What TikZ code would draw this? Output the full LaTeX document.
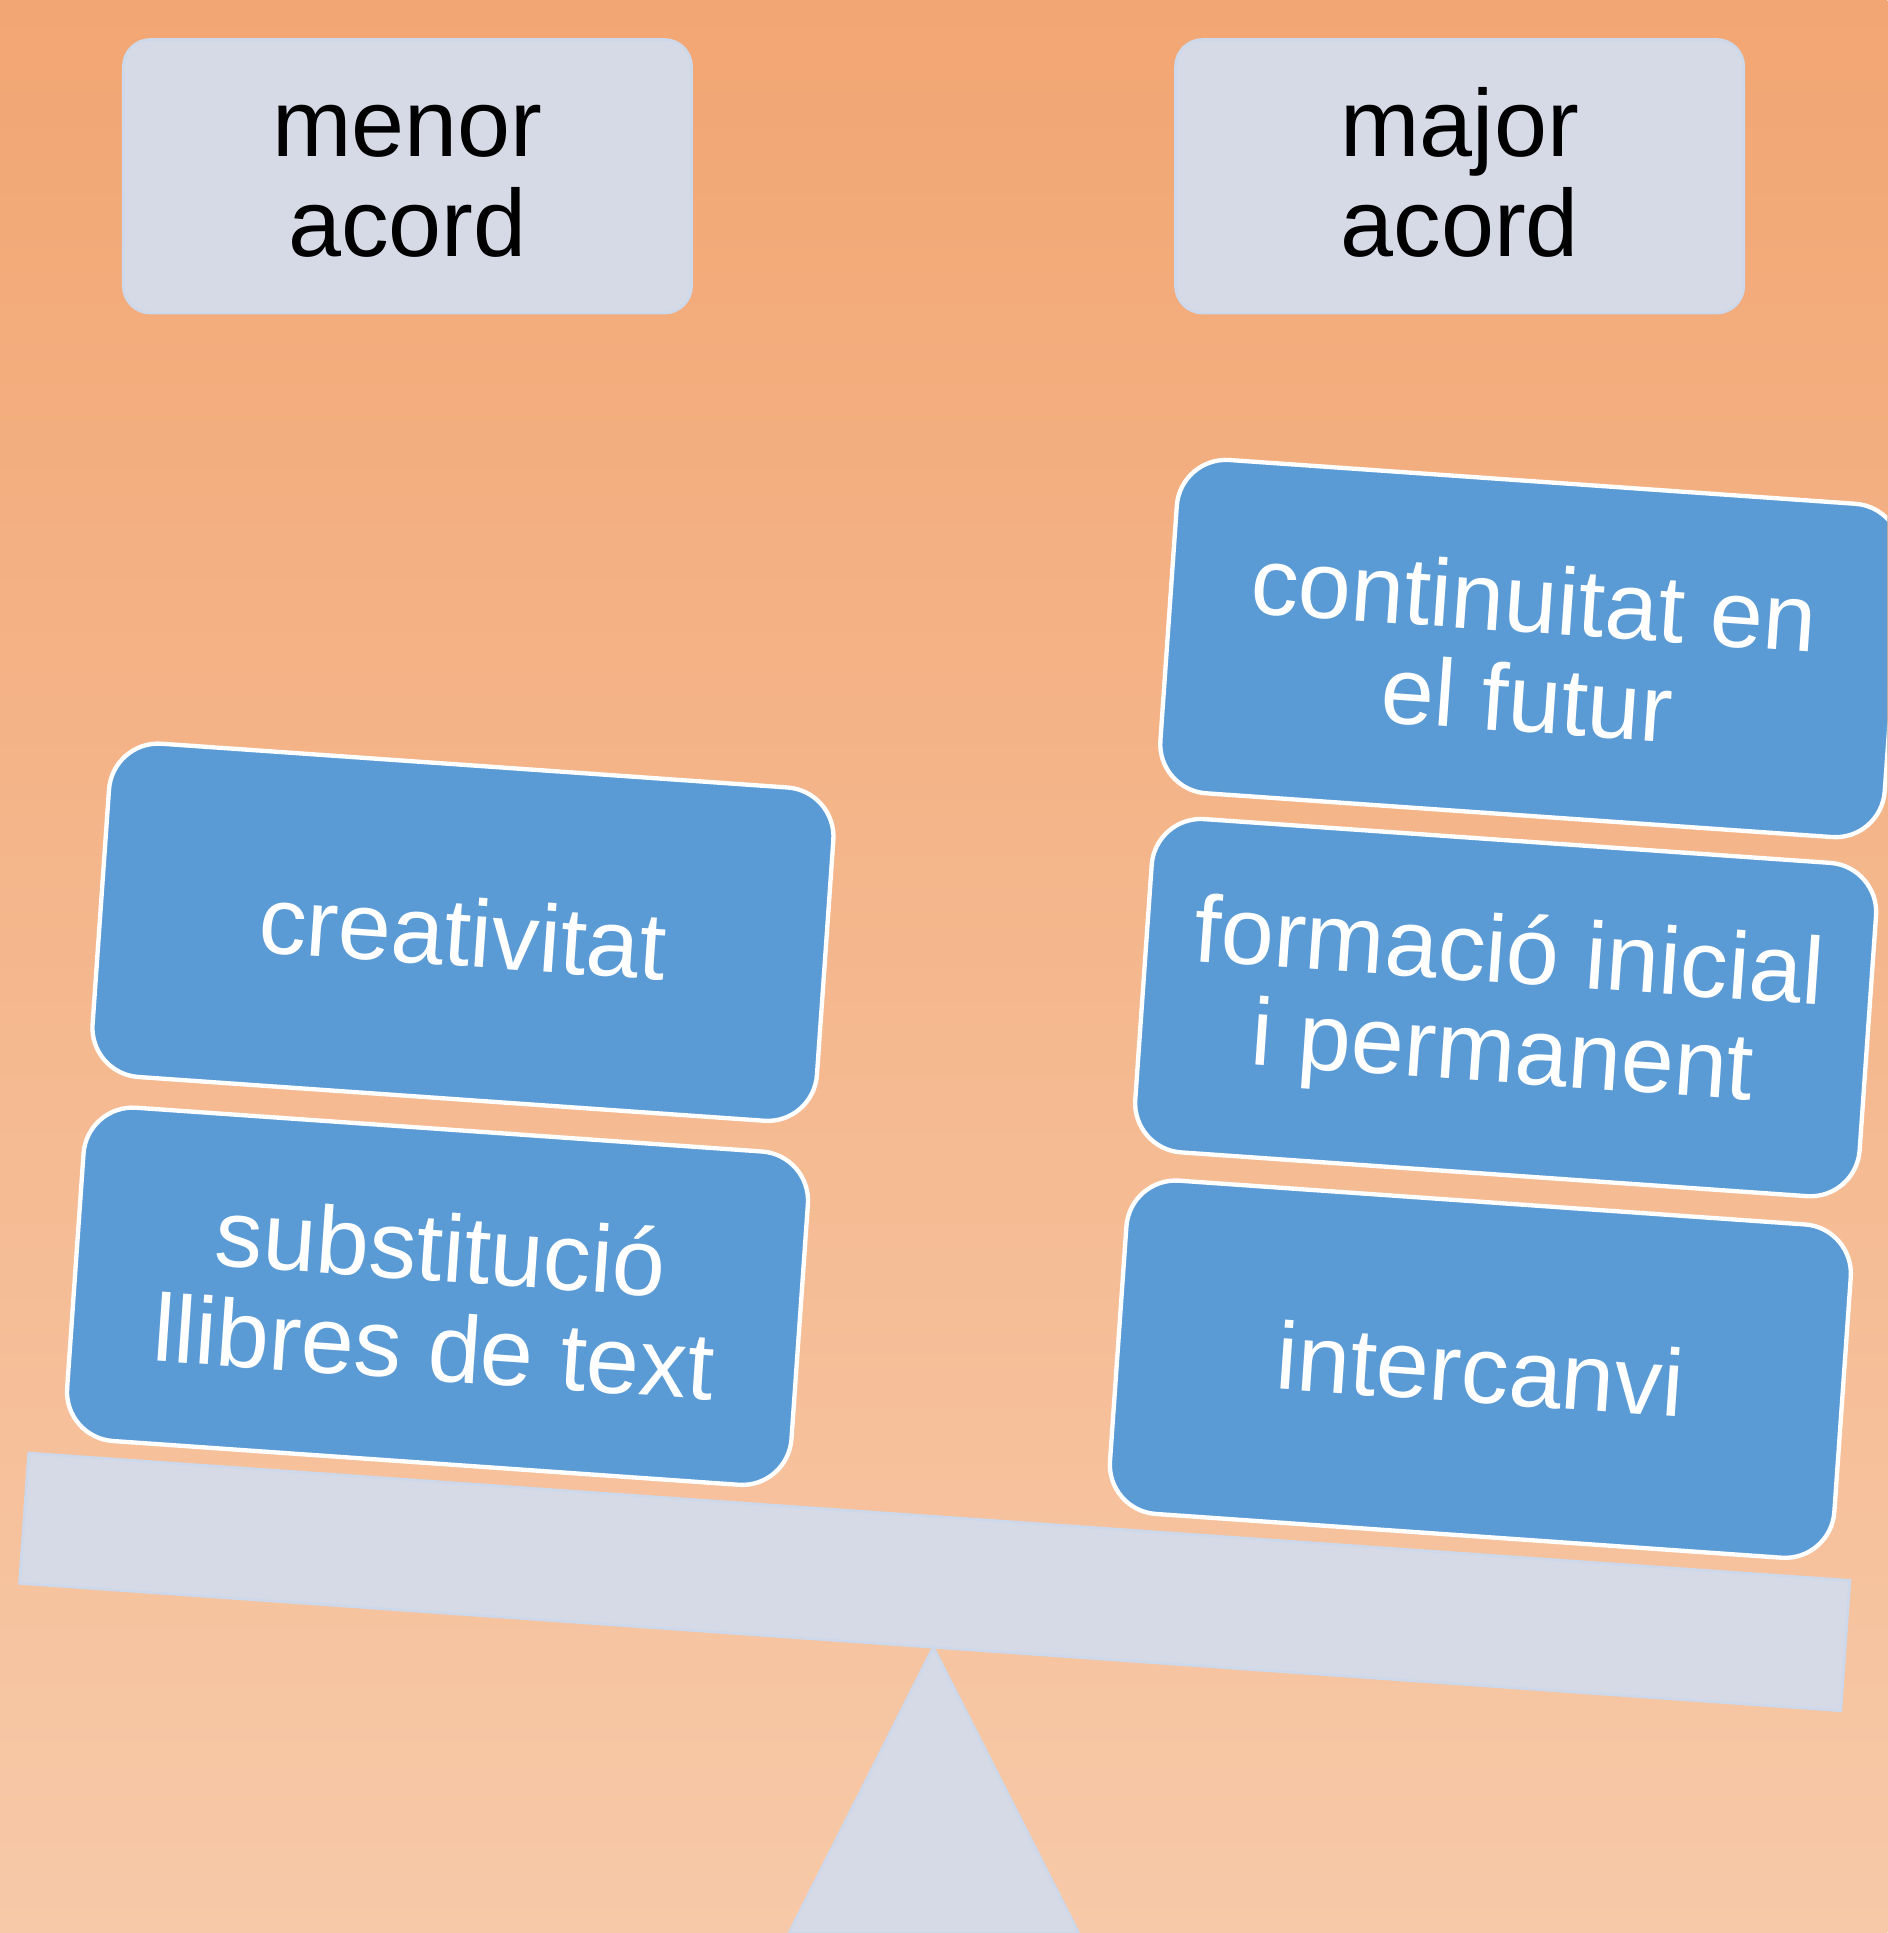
\documentclass[tikz,border=0pt]{standalone}
\usepackage{fontspec}
\setmainfont{Liberation Sans}
\usepackage{xcolor}

\definecolor{bgtop}{RGB}{242,166,115}
\definecolor{bgbottom}{RGB}{247,201,168}
\definecolor{panelgray}{RGB}{213,218,230}
\definecolor{panelline}{RGB}{205,216,234}
\definecolor{ideablue}{RGB}{91,155,213}

% same line heights in both headings
\newcommand{\headlines}[2]{\rule{0pt}{20pt}#1\\#2\rule[-6pt]{0pt}{6pt}}

\tikzset{
  headbox/.style={rectangle, rounded corners=0.22cm, fill=panelgray, draw=panelline,
    line width=0.6pt, minimum width=4.61cm, minimum height=2.22cm, inner sep=0pt,
    align=center, font=\fontsize{22}{23}\selectfont},
  ideabox/.style={rectangle, rounded corners=0.4cm, fill=ideablue, draw=white,
    line width=1pt, text=white, minimum width=5.89cm, minimum height=2.71cm,
    inner sep=0pt, align=center, font=\fontsize{22}{23}\selectfont},
}

\begin{document}
\begin{tikzpicture}
    \useasboundingbox (0,0) rectangle (15.31,15.68);
    \clip (0,0) rectangle (15.31,15.68);

    % Background
    \shade[top color=bgtop, bottom color=bgbottom] (0,0) rectangle (15.31,15.68);

    % Headings
    \node[headbox] (menor) at (3.305,14.25) {\headlines{menor}{acord}};
    \node[headbox] (major) at (11.84,14.25) {\headlines{major}{acord}};

    % Fulcrum
    \filldraw[fill=panelgray, draw=panelline, line width=0.6pt]
        (7.57,2.32) -- (8.75,0) -- (6.40,0) -- cycle;

    % Tilted beam with the boxes on it
    \begin{scope}[rotate=-4, transform shape]
        \filldraw[fill=panelgray, draw=panelline, line width=0.6pt]
            (-0.04,2.84) rectangle (14.77,3.90);

        \node[ideabox] (subst) at (3.18,5.40) {substitució\\llibres de text};
        \node[ideabox] (creat) at (3.18,8.36) {creativitat};

        \node[ideabox] (inter) at (11.66,5.40) {intercanvi};
        \node[ideabox] (forma) at (11.66,8.34) {formació inicial\\i permanent};
        \node[ideabox] (conti) at (11.66,11.26) {continuitat en\\el futur};
    \end{scope}
\end{tikzpicture}
\end{document}
